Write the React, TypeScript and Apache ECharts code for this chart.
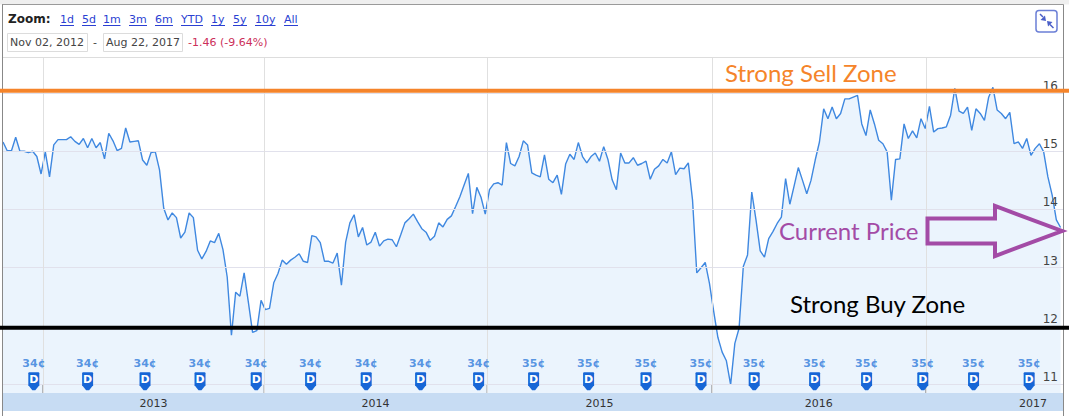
import React, { useEffect, useRef } from 'react';
import * as echarts from 'echarts';

// ---------- data ----------
const startDate = '2012-11-02';
const endDate = '2017-08-22';

// weekly closing prices
const prices = [
  15.16, 15.01, 15.01, 15.24, 15.0, 15.0, 14.98, 15.0, 14.91, 14.61,
  14.99, 14.56, 15.11, 15.2, 15.2, 15.2, 15.25, 15.17, 15.12, 15.22,
  15.06, 15.22, 15.06, 15.15, 14.87, 15.31, 15.18, 15.01, 15.05, 15.4,
  15.16, 15.17, 15.18, 14.85, 14.76, 14.98, 14.99, 14.68, 14.02, 13.82,
  13.94, 13.86, 13.51, 13.61, 13.94, 13.86, 13.3, 13.15, 13.28, 13.46,
  13.43, 13.59, 13.31, 12.84, 11.84, 12.58, 12.51, 12.91, 12.41, 11.89,
  11.92, 12.44, 12.28, 12.3, 12.74, 12.9, 13.13, 13.06, 13.13, 13.18,
  13.24, 13.11, 13.09, 13.55, 13.53, 13.43, 13.11, 13.11, 13.08, 13.25,
  12.7, 13.44, 13.77, 13.91, 13.53,
  13.69, 13.39, 13.44, 13.61, 13.37, 13.46, 13.49, 13.48, 13.36, 13.56,
  13.77, 13.84, 13.92, 13.79, 13.67, 13.61, 13.47, 13.54, 13.77, 13.7,
  13.83, 13.89, 14.05, 14.22, 14.42, 14.62, 13.93, 14.38, 14.21, 13.92,
  14.34, 14.44, 14.46, 14.42, 15.15, 14.79, 14.75, 14.91, 15.18, 15.11,
  14.63, 14.59, 14.56, 14.94, 14.52, 14.46, 14.59, 14.26, 14.78, 14.95,
  14.86, 15.15, 14.91, 14.8, 14.91, 14.97, 14.83, 15.08, 14.86, 14.51,
  14.34, 14.97, 14.8, 14.8, 14.89, 14.76, 14.79, 14.83, 14.52, 14.69,
  14.75, 14.86, 14.8, 14.99, 14.6, 14.71, 14.7, 14.8, 14.16, 12.91,
  13.0, 13.09, 12.73, 12.25, 11.8, 11.55, 11.4, 10.99, 11.7, 11.96,
  13.02, 13.22, 14.3, 13.82, 13.29, 13.18, 13.5, 13.62, 13.76, 13.87,
  14.53, 14.09, 14.4, 14.72, 14.5, 14.27, 14.5, 14.85, 15.16, 15.73,
  15.56, 15.76, 15.56, 15.65, 15.9, 15.9, 15.93, 15.96, 15.47, 15.27,
  15.71, 15.47, 15.19, 15.13, 14.99, 14.16, 14.86, 14.87, 15.47, 15.22,
  15.35, 15.23, 15.56, 15.39, 15.77, 15.33, 15.39, 15.4, 15.42, 15.62,
  16.08, 15.69, 15.65, 15.76, 15.36, 15.73, 15.65, 15.53, 15.93, 16.1,
  15.71, 15.65, 15.56, 15.67, 15.13, 15.16, 15.05, 15.22, 14.93, 15.05,
  15.13, 14.99, 14.56, 14.25, 13.82, 13.69,
];

const yearStarts = ['2013-01-07', '2014-01-08', '2015-01-12', '2016-01-19', '2017-01-07'];
const yearLabels = ['2013', '2014', '2015', '2016', '2017'];

const divDates = [
  '2012-12-23', '2013-03-22', '2013-06-25', '2013-09-24', '2013-12-26',
  '2014-03-26', '2014-06-26', '2014-09-24', '2014-12-29', '2015-03-30',
  '2015-06-29', '2015-10-02', '2016-01-01', '2016-03-29', '2016-07-07',
  '2016-10-01', '2017-01-02', '2017-03-27', '2017-06-27',
];
const divCents = [34, 34, 34, 34, 34, 34, 34, 34, 34, 35, 35, 35, 35, 35, 35, 35, 35, 35, 35];

const gridValues = [11, 12, 13, 14, 15, 16];
const sellZone = 16.04;
const buyZone = 11.97;
const yMin = 10.847;
const yMax = 16.62;
const flagLevel = 11.05;

const zoomLinks = ['1d', '5d', '1m', '3m', '6m', 'YTD', '1y', '5y', '10y', 'All'];
const changeText = '-1.46 (-9.64%)';

// ---------- helpers ----------
function ts(s: string): number {
  const [y, m, d] = s.split('-').map(Number);
  return new Date(y, m - 1, d).getTime();
}
const [sy, sm, sd] = startDate.split('-').map(Number);
const weekDates = prices.map((_, i) => new Date(sy, sm - 1, sd + 7 * i).getTime());

const FONT = '"DejaVu Sans", Verdana, sans-serif';
const ZONE_FONT = 'Lato, "Noto Sans", sans-serif';

function txt(text: string, x: number, y: number, font: string, fill: string, align = 'left') {
  return {
    type: 'text',
    x,
    y,
    z: 60,
    silent: true,
    style: { text, font, fill, align, textAlign: align, verticalAlign: 'middle', textVerticalAlign: 'middle' },
  };
}
function ln(x1: number, y1: number, x2: number, y2: number, stroke: string, lineWidth = 1, z = 60) {
  return { type: 'line', z, silent: true, shape: { x1, y1, x2, y2 }, style: { stroke, lineWidth } };
}

const flagPath = 'path://M1,0 H10 Q11,0 11,1 V13 L7,18 H4 L0,13 V1 Q0,0 1,0 Z';

export default function App() {
  const ref = useRef<HTMLDivElement>(null);

  useEffect(() => {
    document.body.style.margin = '0';
    if (!ref.current) return;
    const chart = echarts.init(ref.current, undefined, { renderer: 'svg' });
    const xMin = ts(startDate);
    const xMax = ts(endDate);

    const segments = yearLabels.map((_, i) => [
      ts(yearStarts[i]),
      i < yearStarts.length - 1 ? ts(yearStarts[i + 1]) : xMax,
      0.5,
    ]);

    chart.setOption({
      animation: false,
      backgroundColor: '#ffffff',
      grid: [
        { left: 3, right: 6, top: 57, bottom: 23 },
        { left: 3, right: 6, top: 393, height: 18, show: true, backgroundColor: '#c7dcf3', borderWidth: 0 },
      ],
      xAxis: [
        { type: 'time', gridIndex: 0, min: xMin, max: xMax, show: false },
        { type: 'time', gridIndex: 1, min: xMin, max: xMax, show: false },
      ],
      yAxis: [
        { type: 'value', gridIndex: 0, min: yMin, max: yMax, show: false },
        { type: 'value', gridIndex: 1, min: 0, max: 1, show: false },
      ],
      series: [
        {
          type: 'line',
          xAxisIndex: 0,
          yAxisIndex: 0,
          data: weekDates.map((t, i) => [t, prices[i]]),
          showSymbol: false,
          symbol: 'none',
          lineStyle: { color: '#3f88e0', width: 1.4 },
          areaStyle: { color: '#ebf4fd', opacity: 1 },
          silent: true,
          z: 2,
          markLine: {
            silent: true,
            symbol: ['none', 'none'],
            animation: false,
            data: [
              ...gridValues.map((v) => ({
                yAxis: v,
                lineStyle: { color: '#e1e1ec', width: 1, type: 'solid' },
                label: {
                  show: true,
                  position: 'insideEndTop',
                  formatter: String(v),
                  color: '#444',
                  fontSize: 12,
                  fontFamily: FONT,
                  distance: [5, 1],
                },
              })),
              ...yearStarts.map((d) => ({
                xAxis: ts(d),
                lineStyle: { color: '#e0e0e0', width: 1, type: 'solid' },
                label: { show: false },
              })),
            ],
          },
        },
        {
          type: 'scatter',
          xAxisIndex: 0,
          yAxisIndex: 0,
          data: yearStarts.map((d) => [ts(d), yMin]),
          symbol: 'rect',
          symbolSize: [1, 8],
          symbolOffset: [0, -4],
          itemStyle: { color: '#777' },
          clip: false,
          silent: true,
          z: 4,
        },
        {
          type: 'scatter',
          xAxisIndex: 0,
          yAxisIndex: 0,
          data: divDates.map((d) => [ts(d), flagLevel]),
          symbol: flagPath,
          symbolSize: [11, 18],
          itemStyle: { color: '#1766d6', opacity: 1 },
          label: {
            show: true,
            position: 'inside',
            formatter: 'D',
            color: '#ffffff',
            fontWeight: 'bold',
            fontSize: 11,
            fontFamily: FONT,
            offset: [0, -2],
          },
          silent: true,
          z: 5,
        },
        {
          type: 'scatter',
          xAxisIndex: 0,
          yAxisIndex: 0,
          data: divDates.map((d) => [ts(d), flagLevel]),
          symbolSize: [11, 18],
          itemStyle: { color: 'rgba(0,0,0,0)' },
          label: {
            show: true,
            position: 'top',
            distance: 3,
            formatter: (p: any) => divCents[p.dataIndex] + '¢',
            color: '#2f7bdb',
            fontWeight: 'bold',
            fontSize: 11,
            fontFamily: FONT,
          },
          silent: true,
          z: 5,
        },
        {
          type: 'custom',
          xAxisIndex: 1,
          yAxisIndex: 1,
          data: segments,
          encode: { x: [0, 1], y: 2 },
          clip: false,
          silent: true,
          renderItem: (params: any, api: any) => {
            const i = params.dataIndex;
            const a = api.coord([api.value(0), 0.5]);
            const b = api.coord([api.value(1), 0.5]);
            const last = i === yearLabels.length - 1;
            return {
              type: 'text',
              style: {
                text: yearLabels[i],
                x: last ? b[0] - 16 : (a[0] + b[0]) / 2,
                y: a[1] + 1,
                align: last ? 'right' : 'center',
                verticalAlign: 'middle',
                fill: '#333',
                font: '11px ' + FONT,
              },
            };
          },
        },
      ],
    });

    const ySell = chart.convertToPixel({ yAxisIndex: 0 }, sellZone) as number;
    const yBuy = chart.convertToPixel({ yAxisIndex: 0 }, buyZone) as number;

    const linkX = [60, 82, 103, 129, 155, 181, 211, 233, 255, 284];
    const linkW = [14, 14, 17.5, 18, 18, 22, 14, 14, 20.5, 14];
    const linkColor = '#2b3fd2';

    const graphic: any[] = [
      { type: 'rect', z: 50, silent: true, shape: { x: 0, y: 0, width: 1069, height: 4.5 }, style: { fill: '#efefef' } },
      ln(2, 4.5, 1063.5, 4.5, '#9a9a9a'),
      ln(2.5, 4.5, 2.5, 416, '#888'),
      ln(1063.5, 4.5, 1063.5, 416, '#888'),
      ln(3, 57.5, 1063, 57.5, '#dddddd'),
      txt('Zoom:', 8, 19, 'bold 12px ' + FONT, '#222'),
      ...zoomLinks.map((l, i) => txt(l, linkX[i], 19, '11px ' + FONT, linkColor)),
      ...zoomLinks.map((l, i) => ln(linkX[i], 25.5, linkX[i] + linkW[i], 25.5, linkColor)),
      { type: 'rect', z: 60, silent: true, shape: { x: 7.5, y: 33.5, width: 80, height: 18 }, style: { fill: '#fff', stroke: '#dcdcdc', lineWidth: 1 } },
      txt('Nov 02, 2012', 10, 42.5, '11px ' + FONT, '#444'),
      txt('-', 93, 42.5, '11px ' + FONT, '#444'),
      { type: 'rect', z: 60, silent: true, shape: { x: 103.5, y: 33.5, width: 79, height: 18 }, style: { fill: '#fff', stroke: '#dcdcdc', lineWidth: 1 } },
      txt('Aug 22, 2017', 106, 42.5, '11px ' + FONT, '#444'),
      txt(changeText, 188, 42.5, '11px ' + FONT, '#cc2f5a'),
      // collapse button
      { type: 'rect', z: 60, silent: true, shape: { x: 1036, y: 10.5, width: 21, height: 21.5, r: 3 }, style: { fill: '#fff', stroke: '#6b7fd6', lineWidth: 1.5 } },
      ln(1040, 14, 1043, 17, '#4a5fc8', 1.5),
      { type: 'polygon', z: 61, silent: true, shape: { points: [[1046, 21], [1040.5, 20], [1045, 15.5]] }, style: { fill: '#4a5fc8' } },
      ln(1050, 24.5, 1053.5, 28, '#4a5fc8', 1.5),
      { type: 'polygon', z: 61, silent: true, shape: { points: [[1047, 21], [1052.5, 22], [1048, 26.5]] }, style: { fill: '#4a5fc8' } },
      // zones
      ln(0, ySell, 1069, ySell, '#f5842a', 4, 70),
      ln(0, yBuy, 1069, yBuy, '#000000', 4, 70),
      txt('Strong Sell Zone', 725, 72, '24px ' + ZONE_FONT, '#f5842a'),
      txt('Strong Buy Zone', 790, 303, '24px ' + ZONE_FONT, '#000000'),
      txt('Current Price', 779, 230.5, '24px ' + ZONE_FONT, '#a34ba6'),
      {
        type: 'polygon',
        z: 70,
        silent: true,
        shape: { points: [[927.5, 218.5], [995, 218.5], [995, 206], [1062, 231], [995, 256], [995, 243.5], [927.5, 243.5]] },
        style: { fill: 'none', stroke: '#a34ba6', lineWidth: 4, lineJoin: 'miter' },
      },
    ];

    chart.setOption({ graphic });

    return () => chart.dispose();
  }, []);

  return <div ref={ref} style={{ width: 1069, height: 416 }} />;
}
